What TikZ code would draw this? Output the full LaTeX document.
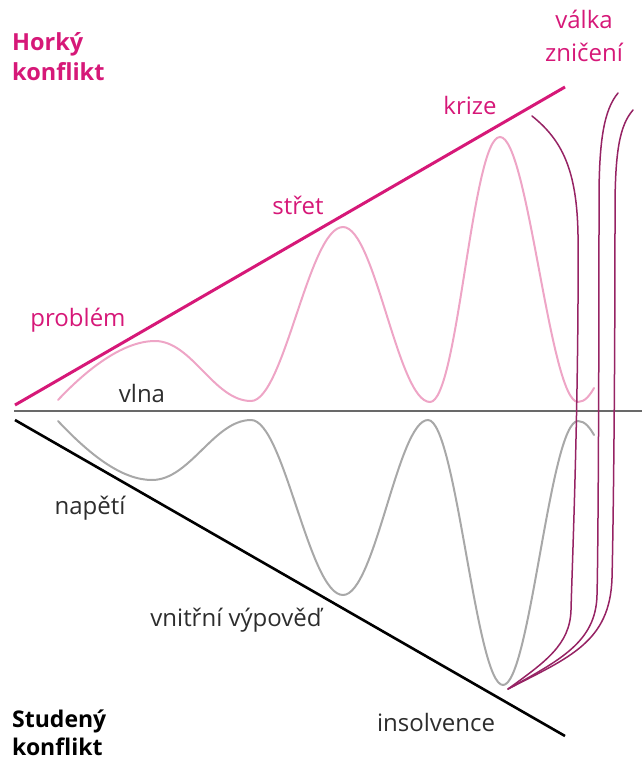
\documentclass[tikz,border=0pt]{standalone}
\usepackage{fontspec}
\setmainfont{Open Sans}
\usetikzlibrary{positioning}

\definecolor{hotpink}{RGB}{214,24,120}
\definecolor{wavepink}{RGB}{238,165,198}
\definecolor{wavegray}{RGB}{168,168,168}
\definecolor{axisgray}{RGB}{105,105,105}
\definecolor{warpurple}{RGB}{150,35,100}
\definecolor{labelgray}{RGB}{45,45,45}

\begin{document}
\begin{tikzpicture}[x=1pt, y=-1pt,
    hotlabel/.style={text=hotpink, font=\fontsize{24}{30}\selectfont, inner sep=0pt},
    coldlabel/.style={text=labelgray, font=\fontsize{24}{30}\selectfont, inner sep=0pt},
    wave/.style={line width=2pt, line cap=round},
    warline/.style={draw=warpurple, line width=1.5pt, line cap=round}]
  \useasboundingbox (0,0) rectangle (642,762);

  % Frame lines
  \coordinate (hotstart) at (15,405);
  \coordinate (hotend)   at (565,87);
  \coordinate (coldstart) at (15,420);
  \coordinate (coldend)   at (565,736);
  \coordinate (axisleft)  at (14,411);
  \coordinate (axisright) at (642,411);
  \draw[axisgray, line width=2.8pt] (axisleft) -- (axisright);
  \draw[hotpink, line width=3pt] (hotstart) -- (hotend);
  \draw[black, line width=2.6pt] (coldstart) -- (coldend);

  % Hot wave
  \draw[wave, wavepink] (58,400)
    .. controls (90,366) and (125,341) .. (155,341)
    .. controls (192,341) and (214,401) .. (251,401)
    .. controls (284,401) and (309,227) .. (343,227)
    .. controls (375,227) and (398,402) .. (430,402)
    .. controls (458,402) and (472,137) .. (500,137)
    .. controls (528,137) and (550,402) .. (578,402)
    .. controls (585,402) and (590,395) .. (594,388);

  % Cold wave
  \draw[wave, wavegray] (58,421)
    .. controls (90,455) and (122,480) .. (152,480)
    .. controls (190,480) and (214,420) .. (251,420)
    .. controls (284,420) and (309,595) .. (343,595)
    .. controls (375,595) and (398,420) .. (428,420)
    .. controls (456,420) and (476,685) .. (503,685)
    .. controls (530,685) and (550,421) .. (578,421)
    .. controls (585,421) and (590,428) .. (594,435);

  % War lines
  \coordinate (meet) at (508,689);
  \draw[warline] (532,116) .. controls (562,140) and (577,170) .. (578,235)
    .. controls (579,400) and (572,570) .. (571,610)
    .. controls (570,645) and (545,662) .. (meet);
  \draw[warline] (618,93) .. controls (604,110) and (599,140) .. (599,200)
    .. controls (599,400) and (598,560) .. (597,595)
    .. controls (596,642) and (560,660) .. (meet);
  \draw[warline] (633,110) .. controls (620,125) and (615,150) .. (615,210)
    .. controls (615,400) and (613,540) .. (612,578)
    .. controls (610,642) and (570,657) .. (meet);

  % Labels
  \node[hotlabel, anchor=west, align=left, font=\fontsize{23.5}{30}\selectfont\bfseries]
    (hot) at (12,57) {Horký\\konflikt};
  \node[hotlabel, align=center, font=\fontsize{24}{33}\selectfont]
    (valka) at (584,36) {válka\\zničení};
  \node[hotlabel] (krize) at (470,106) {krize};
  \node[hotlabel] (stret) at (298,205) {střet};
  \node[hotlabel] (problem) at (78,320) {problém};
  \node[coldlabel] (vlna) at (142,393) {vlna};
  \node[coldlabel] (napeti) at (90,508) {napětí};
  \node[coldlabel] (vypoved) at (236,620) {vnitřní výpověď};
  \node[coldlabel] (insol) at (436,722) {insolvence};
  \node[coldlabel, anchor=west, align=left, text=black,
        font=\fontsize{23}{28}\selectfont\bfseries]
    (cold) at (12,733) {Studený\\konflikt};
\end{tikzpicture}
\end{document}
